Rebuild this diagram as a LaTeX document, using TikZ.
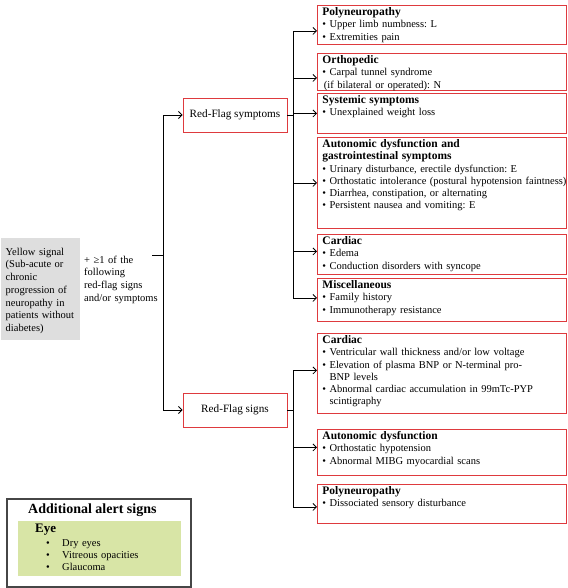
\documentclass[tikz,border=0pt]{standalone}
\usepackage{fontspec}
\setmainfont{Liberation Serif}
\usetikzlibrary{arrows.meta,positioning}
\definecolor{flagred}{RGB}{222,58,62}
\definecolor{signalgray}{RGB}{222,222,222}
\definecolor{eyegreen}{RGB}{216,229,166}
\definecolor{alertgray}{RGB}{70,70,70}
\newcommand{\flagitem}{\textbullet\ }
\newcommand{\flagindent}{\phantom{\textbullet\ }}
\newcommand{\boxtitle}[1]{{\fontsize{11.5}{12.5}\selectfont\bfseries #1}}
\frenchspacing

\begin{document}
\begin{tikzpicture}[
    x=1pt, y=-1pt,
    flagbox/.style={
    draw=flagred,
    line width=0.9pt,
    anchor=north west,
    text width=239pt,
    inner xsep=5pt,
    inner ysep=2pt,
    align=left,
    text height=8pt,
    font=\fontsize{10.5}{12.3}\selectfont},
    flaghead/.style={
    draw=flagred,
    line width=0.9pt,
    minimum width=104pt,
    minimum height=34pt,
    font=\fontsize{11.2}{13}\selectfont},
    myarrow/.style={-{Straight Barb[length=3.5pt,width=7pt]},line width=0.8pt},
    myline/.style={line width=0.8pt}
    ]
    \useasboundingbox (0,0) rectangle (567,588);

    % left side
    \node[fill=signalgray, anchor=north west, text width=70pt, inner xsep=4.5pt, inner ysep=3pt,
          align=left, text height=14pt, text depth=82pt, font=\fontsize{10.5}{12.7}\selectfont]
          (ysig) at (1,238) {Yellow signal\\(Sub-acute or\\chronic\\progression of\\neuropathy in\\patients without\\diabetes)};
    \node[anchor=north west, text width=80pt, inner sep=0pt, align=left, text height=8pt,
          font=\fontsize{10.5}{12.7}\selectfont]
          (cond) at (84,255) {+ ≥1 of the\\following\\red-flag signs\\and/or symptoms};

    \node[flaghead] (rfsym) at (235,115) {Red-Flag symptoms};
    \node[flaghead] (rfsig) at (235,410) {Red-Flag signs};

    \coordinate (jl) at (152,255);
    \coordinate (jr) at (163,255);
    \draw[myline] (jl) -- (jr);
    \draw[myarrow] (jr) |- (rfsym);
    \draw[myarrow] (jr) |- (rfsig);

    % red-flag symptoms
    \node[flagbox, text depth=27pt] (s1) at (317,5) {\boxtitle{Polyneuropathy}\\\flagitem Upper limb numbness: L\\\flagitem Extremities pain};
    \node[flagbox, text depth=25pt] (s2) at (317,53) {\boxtitle{Orthopedic}\\\flagitem Carpal tunnel syndrome\\\hspace*{1.5pt}(if bilateral or operated): N};
    \node[flagbox, text depth=28pt] (s3) at (317,93) {\boxtitle{Systemic symptoms}\\\flagitem Unexplained weight loss};
    \node[flagbox, text depth=79pt] (s4) at (317,137) {\boxtitle{Autonomic dysfunction and}\\\boxtitle{gastrointestinal symptoms}\\\flagitem Urinary disturbance, erectile dysfunction: E\\\mbox{\flagitem Orthostatic intolerance (postural hypotension faintness)}\\\flagitem Diarrhea, constipation, or alternating\\\flagitem Persistent nausea and vomiting: E};
    \node[flagbox, text depth=28pt] (s5) at (317,234) {\boxtitle{Cardiac}\\\flagitem Edema\\\flagitem Conduction disorders with syncope};
    \node[flagbox, text depth=31pt] (s6) at (317,278) {\boxtitle{Miscellaneous}\\\flagitem Family history\\\flagitem Immunotherapy resistance};

    \coordinate (ts) at (293,115);
    \draw[myline] (rfsym) -- (ts);
    \draw[myarrow] (ts) |- ([yshift=-6pt]s1.west);
    \draw[myarrow] (ts) |- ([yshift=-6pt]s2.west);
    \draw[myarrow] (ts) |- (s3);
    \draw[myarrow] (ts) |- (s4);
    \draw[myarrow] (ts) |- ([yshift=3pt]s5.west);
    \draw[myarrow] (ts) |- ([yshift=2pt]s6.west);

    % red-flag signs
    \node[flagbox, text depth=68pt] (g1) at (317,333) {\boxtitle{Cardiac}\\\flagitem Ventricular wall thickness and/or low voltage\\\flagitem Elevation of plasma BNP or N-terminal pro-\\\flagindent BNP levels\\\flagitem Abnormal cardiac accumulation in 99mTc-PYP\\\flagindent scintigraphy};
    \node[flagbox, text depth=34pt] (g2) at (317,429) {\boxtitle{Autonomic dysfunction}\\\flagitem Orthostatic hypotension\\\flagitem Abnormal MIBG myocardial scans};
    \node[flagbox, text depth=27pt] (g3) at (317,484) {\boxtitle{Polyneuropathy}\\\flagitem Dissociated sensory disturbance};

    \coordinate (tg) at (293,410);
    \draw[myline] (rfsig) -- (tg);
    \draw[myarrow] (tg) |- ([yshift=3pt]g1.west);
    \draw[myarrow] (tg) |- ([yshift=5pt]g2.west);
    \draw[myarrow] (tg) |- ([yshift=-3pt]g3.west);

    % additional alert signs
    \node[draw=alertgray, line width=1.2pt, minimum width=184pt, minimum height=88pt] (alert) at (99,543) {};
    \node[fill=eyegreen, minimum width=163pt, minimum height=55pt] (eyebox) at (99.5,548.5) {};
    \node[anchor=base west, inner sep=0pt, font=\fontsize{14}{16}\selectfont\bfseries] (alerttitle) at (28,513) {Additional alert signs};
    \node[anchor=base west, inner sep=0pt, font=\fontsize{13}{15}\selectfont\bfseries] (eyetitle) at (35,532) {Eye};
    \node[anchor=north west, inner sep=0pt, text width=130pt, align=left, text height=8pt,
          font=\fontsize{10.5}{12}\selectfont] (eyelist) at (46,538)
          {\makebox[16pt][l]{\textbullet}Dry eyes\\\makebox[16pt][l]{\textbullet}Vitreous opacities\\\makebox[16pt][l]{\textbullet}Glaucoma};
\end{tikzpicture}
\end{document}
